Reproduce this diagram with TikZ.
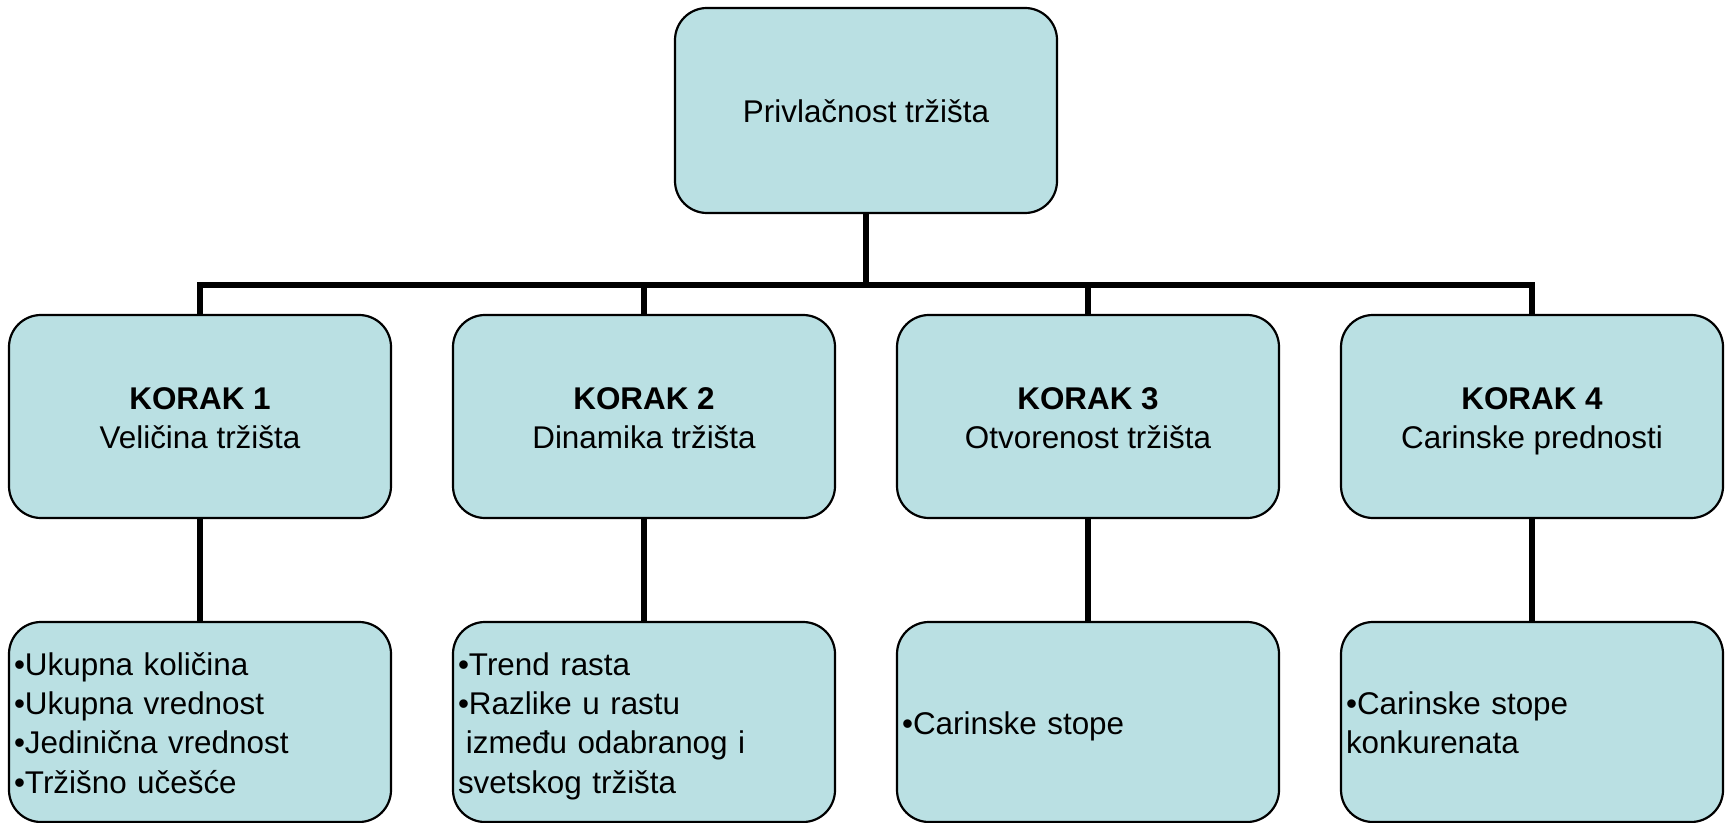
\documentclass[tikz,border=0pt]{standalone}
\usepackage{fontspec}
\setmainfont{Liberation Sans}
\definecolor{boxfill}{RGB}{186,224,227}
\newcommand{\firstln}{\vrule width 0pt height 18.1pt depth 5.88pt\relax}
\begin{document}
\begin{tikzpicture}[x=0.5pt,y=-0.5pt,
  box/.style={draw=black, line width=1.1pt, fill=boxfill, rounded corners=16pt,
    minimum width=191pt, inner xsep=2.5pt, inner ysep=0pt,
    font=\fontsize{15.7}{19.6}\selectfont},
  topbox/.style={box, minimum height=102.5pt, align=center},
  stepbox/.style={box, minimum height=101.5pt, align=center},
  leafbox/.style={box, minimum height=100pt, text width=186pt, align=left},
  conn/.style={line width=3pt}]
\useasboundingbox (0,0) rectangle (1727,823);

\node[topbox] (T) at (866,110.5) {\firstln Privlačnost tržišta};

\node[stepbox] (K1) at (200,416.5) {\firstln\textbf{KORAK 1}\\\strut Veličina tržišta};
\node[stepbox] (K2) at (644,416.5) {\firstln\textbf{KORAK 2}\\\strut Dinamika tržišta};
\node[stepbox] (K3) at (1088,416.5) {\firstln\textbf{KORAK 3}\\\strut Otvorenost tržišta};
\node[stepbox] (K4) at (1532,416.5) {\firstln\textbf{KORAK 4}\\\strut Carinske prednosti};

\node[leafbox] (B1) at (200,722) {\firstln•Ukupna količina\\\strut•Ukupna vrednost\\\strut•Jedinična vrednost\\\strut•Tržišno učešće};
\node[leafbox] (B2) at (644,722) {\firstln•Trend rasta\\\strut•Razlike u rastu\\\strut\hspace*{0.25em}između odabranog i\\\strut svetskog tržišta};
\node[leafbox] (B3) at (1088,722) {\firstln•Carinske stope};
\node[leafbox] (B4) at (1532,722) {\firstln•Carinske stope\\\strut konkurenata};

\coordinate (bar) at (866,285);
\draw[conn] (T.south) -- (bar);
\draw[conn] (K1.north) |- (bar) -| (K4.north);
\draw[conn] (K2.north) -- (K2.north |- bar);
\draw[conn] (K3.north) -- (K3.north |- bar);

\draw[conn] (K1.south) -- (B1.north);
\draw[conn] (K2.south) -- (B2.north);
\draw[conn] (K3.south) -- (B3.north);
\draw[conn] (K4.south) -- (B4.north);
\end{tikzpicture}
\end{document}
